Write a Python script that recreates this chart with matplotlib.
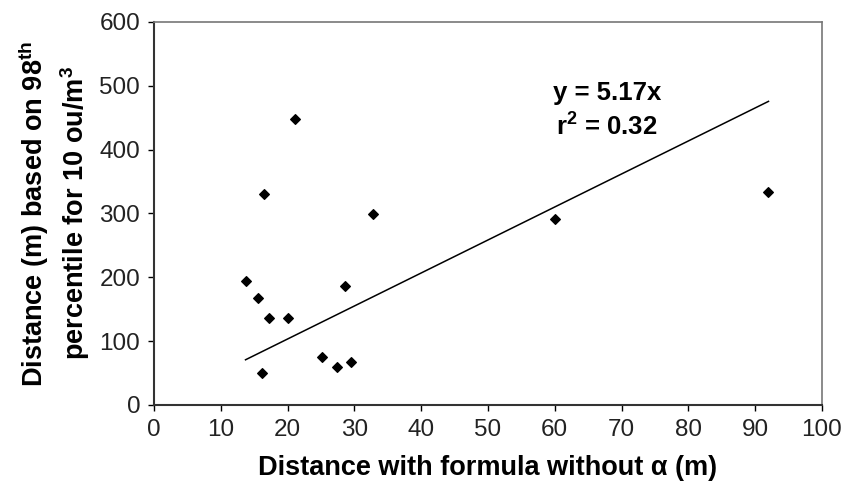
import numpy as np
import matplotlib
matplotlib.use('Agg')
import matplotlib.pyplot as plt

plt.rcParams['font.family'] = ['Liberation Sans', 'DejaVu Sans']
plt.rcParams['mathtext.fontset'] = 'custom'
plt.rcParams['mathtext.rm'] = 'Liberation Sans:bold'
plt.rcParams['mathtext.it'] = 'Liberation Sans:bold'
plt.rcParams['mathtext.bf'] = 'Liberation Sans:bold'

# Data
dist_formula = [21.1, 16.5, 32.8, 13.7, 28.6, 15.5, 17.2, 20.1, 25.1, 27.4, 29.5, 16.2, 60.0, 92.0]
dist_98th = [448, 331, 299, 195, 187, 167, 137, 137, 75, 60, 67, 50, 291, 333]
slope = 5.17
r_squared = 0.32

x_ticks = list(range(0, 101, 10))
y_ticks = list(range(0, 601, 100))

fig = plt.figure(figsize=(8.43, 4.83), dpi=100)
ax = fig.add_axes([0.1827, 0.1615, 0.7923, 0.793])

ax.scatter(dist_formula, dist_98th, marker='D', s=24, color='black', zorder=3)

# regression line through origin, spanning the data range
x_fit = np.array([min(dist_formula), max(dist_formula)])
ax.plot(x_fit, slope * x_fit, color='black', linewidth=1.1)

ax.text(67.8, 489, 'y = %.2fx' % slope, ha='center', va='center',
        fontsize=18.5, fontweight='bold')
ax.text(67.8, 436, 'r$^2$ = %.2f' % r_squared, ha='center', va='center',
        fontsize=18.5, fontweight='bold')

ax.set_xlim(0, 100)
ax.set_ylim(0, 600)
ax.set_xticks(x_ticks)
ax.set_yticks(y_ticks)
ax.tick_params(labelsize=17.5, direction='out', length=4, width=1, pad=6,
               labelcolor='#222222')

ax.set_xlabel('Distance with formula without α (m)', fontsize=19.5,
              fontweight='bold', labelpad=10)
ax.set_ylabel('Distance (m) based on 98$^{th}$\npercentile for 10 ou/m$^3$',
              fontsize=19.5, fontweight='bold', labelpad=5, linespacing=1.3)

for side in ['left', 'bottom']:
    ax.spines[side].set_color('#333333')
    ax.spines[side].set_linewidth(1.5)
for side in ['top', 'right']:
    ax.spines[side].set_color('#777777')
    ax.spines[side].set_linewidth(1.2)

fig.savefig('out.png', dpi=100)
